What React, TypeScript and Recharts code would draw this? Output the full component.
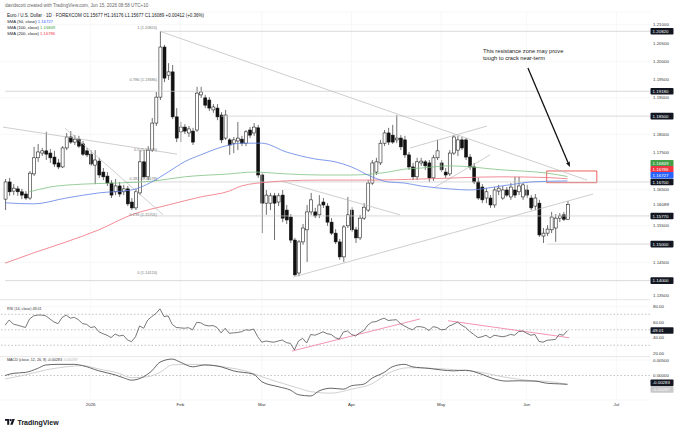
import React from 'react';
import {
  ComposedChart,
  Bar,
  Line,
  XAxis,
  YAxis,
  CartesianGrid,
  ReferenceLine,
  ReferenceDot,
  ReferenceArea,
} from 'recharts';

const FONT = '"Liberation Sans", Arial, sans-serif';

// daily candles, Dec 3 2025 .. Jun 15 2026 (index 0..138)
const opens = [
  1.1623, 1.1670, 1.1645, 1.1651, 1.1643, 1.1637, 1.1626, 1.1692, 1.1736, 1.1749,
  1.1755, 1.1749, 1.1738, 1.1722, 1.1711, 1.1763, 1.1793, 1.1779, 1.1787, 1.1774,
  1.1755, 1.1746, 1.1716, 1.1727, 1.1697, 1.1686, 1.1667, 1.1643, 1.1659, 1.1643,
  1.1651, 1.1615, 1.1599, 1.1640, 1.1725, 1.1684, 1.1757, 1.1831, 1.1902, 1.2039,
  1.1962, 1.1971, 1.1848, 1.1807, 1.1820, 1.1804, 1.1809, 1.1812, 1.1908, 1.1900,
  1.1894, 1.1867, 1.1872, 1.1853, 1.1790, 1.1785, 1.1776, 1.1782, 1.1787, 1.1776,
  1.1812, 1.1804, 1.1818, 1.1689, 1.1612, 1.1612, 1.1632, 1.1615, 1.1634, 1.1593,
  1.1574, 1.1511, 1.1421, 1.1506, 1.1539, 1.1588, 1.1588, 1.1580, 1.1615, 1.1604,
  1.1560, 1.1530, 1.1506, 1.1465, 1.1550, 1.1593, 1.1539, 1.1517, 1.1571, 1.1593,
  1.1667, 1.1697, 1.1722, 1.1776, 1.1804, 1.1798, 1.1785, 1.1790, 1.1785, 1.1744,
  1.1711, 1.1684, 1.1722, 1.1725, 1.1722, 1.1681, 1.1736, 1.1722, 1.1697, 1.1692,
  1.1749, 1.1757, 1.1785, 1.1785, 1.1738, 1.1711, 1.1670, 1.1656, 1.1626, 1.1626,
  1.1607, 1.1645, 1.1626, 1.1648, 1.1629, 1.1648, 1.1643, 1.1629, 1.1648, 1.1626,
  1.1604, 1.1612, 1.1522, 1.1530, 1.1539, 1.1544, 1.1571, 1.1580, 1.15677,
];
const highs = [
  1.1678, 1.1681, 1.1664, 1.1659, 1.1651, 1.1645, 1.1700, 1.1766, 1.1774, 1.1763,
  1.1807, 1.1760, 1.1755, 1.1733, 1.1768, 1.1804, 1.1809, 1.1798, 1.1796, 1.1782,
  1.1763, 1.1757, 1.1757, 1.1736, 1.1708, 1.1697, 1.1675, 1.1678, 1.1670, 1.1662,
  1.1659, 1.1626, 1.1651, 1.1757, 1.1757, 1.1768, 1.1845, 1.1916, 1.2082, 1.2045,
  1.1995, 1.1990, 1.1872, 1.1834, 1.1828, 1.1823, 1.1818, 1.1930, 1.1930, 1.1908,
  1.1902, 1.1883, 1.1883, 1.1861, 1.1867, 1.1790, 1.1793, 1.1834, 1.1796, 1.1812,
  1.1820, 1.1831, 1.1826, 1.1694, 1.1648, 1.1640, 1.1640, 1.1640, 1.1648, 1.1607,
  1.1582, 1.1517, 1.1511, 1.1555, 1.1607, 1.1640, 1.1599, 1.1634, 1.1626, 1.1612,
  1.1571, 1.1541, 1.1514, 1.1552, 1.1629, 1.1601, 1.1547, 1.1580, 1.1612, 1.1675,
  1.1730, 1.1736, 1.1785, 1.1812, 1.1818, 1.1826, 1.1853, 1.1798, 1.1796, 1.1752,
  1.1722, 1.1736, 1.1736, 1.1730, 1.1730, 1.1744, 1.1785, 1.1730, 1.1708, 1.1757,
  1.1798, 1.1796, 1.1793, 1.1790, 1.1746, 1.1722, 1.1681, 1.1664, 1.1653, 1.1634,
  1.1656, 1.1662, 1.1659, 1.1656, 1.1667, 1.1684, 1.1684, 1.1667, 1.1662, 1.1634,
  1.1637, 1.1621, 1.1544, 1.1552, 1.1588, 1.1582, 1.1585, 1.1588, 1.16176,
];
const lows = [
  1.1593, 1.1632, 1.1634, 1.1632, 1.1623, 1.1621, 1.1621, 1.1686, 1.1725, 1.1741,
  1.1730, 1.1722, 1.1711, 1.1705, 1.1708, 1.1757, 1.1774, 1.1771, 1.1763, 1.1741,
  1.1738, 1.1714, 1.1664, 1.1681, 1.1675, 1.1659, 1.1626, 1.1634, 1.1629, 1.1634,
  1.1604, 1.1593, 1.1593, 1.1634, 1.1678, 1.1675, 1.1752, 1.1823, 1.1894, 1.1943,
  1.1949, 1.1842, 1.1779, 1.1779, 1.1801, 1.1793, 1.1771, 1.1807, 1.1900, 1.1872,
  1.1864, 1.1859, 1.1839, 1.1776, 1.1785, 1.1744, 1.1749, 1.1757, 1.1768, 1.1768,
  1.1790, 1.1796, 1.1681, 1.1530, 1.1580, 1.1593, 1.1511, 1.1604, 1.1560, 1.1555,
  1.1503, 1.1412, 1.1412, 1.1498, 1.1451, 1.1580, 1.1571, 1.1571, 1.1599, 1.1550,
  1.1525, 1.1500, 1.1457, 1.1451, 1.1544, 1.1533, 1.1503, 1.1511, 1.1566, 1.1588,
  1.1662, 1.1689, 1.1716, 1.1768, 1.1771, 1.1774, 1.1776, 1.1757, 1.1736, 1.1703,
  1.1675, 1.1675, 1.1714, 1.1703, 1.1670, 1.1673, 1.1730, 1.1697, 1.1681, 1.1686,
  1.1744, 1.1741, 1.1757, 1.1730, 1.1703, 1.1664, 1.1621, 1.1612, 1.1612, 1.1599,
  1.1599, 1.1634, 1.1621, 1.1629, 1.1621, 1.1626, 1.1634, 1.1621, 1.1626, 1.1593,
  1.1593, 1.1520, 1.1503, 1.1522, 1.1530, 1.1506, 1.1560, 1.1563, 1.15677,
];
const closes = [
  1.1670, 1.1643, 1.1653, 1.1643, 1.1634, 1.1626, 1.1694, 1.1736, 1.1752, 1.1755,
  1.1746, 1.1736, 1.1719, 1.1711, 1.1763, 1.1793, 1.1779, 1.1787, 1.1768, 1.1746,
  1.1744, 1.1719, 1.1730, 1.1689, 1.1684, 1.1667, 1.1634, 1.1659, 1.1637, 1.1651,
  1.1610, 1.1599, 1.1643, 1.1725, 1.1684, 1.1757, 1.1831, 1.1902, 1.2039, 1.1954,
  1.1971, 1.1848, 1.1790, 1.1820, 1.1809, 1.1815, 1.1779, 1.1913, 1.1916, 1.1880,
  1.1872, 1.1875, 1.1848, 1.1785, 1.1853, 1.1771, 1.1785, 1.1790, 1.1776, 1.1807,
  1.1798, 1.1820, 1.1689, 1.1612, 1.1634, 1.1632, 1.1612, 1.1632, 1.1571, 1.1566,
  1.1511, 1.1416, 1.1506, 1.1544, 1.1588, 1.1621, 1.1577, 1.1607, 1.1607, 1.1560,
  1.1530, 1.1506, 1.1465, 1.1547, 1.1580, 1.1539, 1.1517, 1.1571, 1.1601, 1.1667,
  1.1722, 1.1725, 1.1776, 1.1804, 1.1779, 1.1779, 1.1790, 1.1766, 1.1744, 1.1711,
  1.1684, 1.1725, 1.1727, 1.1714, 1.1681, 1.1736, 1.1755, 1.1703, 1.1689, 1.1749,
  1.1793, 1.1785, 1.1763, 1.1738, 1.1711, 1.1670, 1.1626, 1.1621, 1.1643, 1.1607,
  1.1648, 1.1653, 1.1648, 1.1634, 1.1656, 1.1634, 1.1659, 1.1662, 1.1634, 1.1599,
  1.1626, 1.1525, 1.1530, 1.1541, 1.1574, 1.1571, 1.1577, 1.1568, 1.16089,
];

// moving averages, read at points along each curve: [candle index, value]
const sma50 = [
  [0, 1.1613], [7, 1.1610], [15, 1.1626], [23, 1.1640], [31, 1.1648], [36, 1.1670],
  [40, 1.1697], [44, 1.1725], [48, 1.1744], [55, 1.1771], [58, 1.1776], [63, 1.1776],
  [69, 1.1752], [76, 1.1733], [81, 1.1725], [85, 1.1711], [90, 1.1684], [94, 1.1670],
  [98, 1.1667], [102, 1.1659], [109, 1.1651], [114, 1.1648], [120, 1.1656],
  [125, 1.1664], [129, 1.1670], [138, 1.16727],
];
const sma100 = [
  [6, 1.1643], [11, 1.1656], [19, 1.1664], [27, 1.1667], [36, 1.1672], [44, 1.1684],
  [55, 1.1692], [61, 1.1697], [69, 1.1692], [77, 1.1689], [85, 1.1689], [94, 1.1697],
  [98, 1.1705], [102, 1.1708], [109, 1.1714], [122, 1.1703], [133, 1.1694],
  [138, 1.16849],
];
const sma200 = [
  [0, 1.1448], [7, 1.1476], [15, 1.1506], [23, 1.1539], [31, 1.1580], [40, 1.1607],
  [48, 1.1629], [55, 1.1645], [58, 1.1659], [65, 1.1670], [69, 1.1673], [77, 1.1675],
  [90, 1.1675], [102, 1.1678], [122, 1.1684], [133, 1.1682], [138, 1.16786],
];

const rsi = [
  56, 62.6, 57.5, 56, 54.5, 53, 64, 68, 69, 69,
  68, 64, 60, 58, 66, 69, 65, 66, 63, 58,
  57, 53, 54, 47.5, 45, 43, 40, 44.5, 42, 43,
  37, 34.6, 41, 55, 52, 62.6, 67, 71, 77, 67,
  68, 57, 53, 52.5, 52, 52.7, 50, 59.6, 59, 56,
  55, 55.5, 53, 46, 52, 45.5, 46, 46.5, 47.5, 50,
  49.5, 51, 41, 34, 35.5, 34.6, 34, 35.5, 36.8, 33.5,
  32.5, 24, 35.5, 39, 33, 44, 43, 45, 47.5, 45,
  44, 40, 38, 47, 48.5, 44, 42, 46, 49, 56,
  60, 60.5, 63, 65, 62, 62.6, 63, 58, 55, 52,
  50, 54, 54, 52.7, 49, 54, 53, 50, 50.5, 55,
  57, 60, 56, 53, 48, 44, 40, 41, 43, 39.4,
  43, 42, 41, 42, 44, 43, 47.5, 48.5, 45.5, 43,
  44, 35, 34, 36.5, 37, 37.5, 44, 43, 49.01,
];

const macdLine = [
  [0, 0.0], [2, 0.0007], [5, 0.001], [8, 0.0023], [10, 0.0034], [13, 0.0036],
  [17, 0.0036], [19, 0.0032], [23, 0.0015], [27, 0.0002], [29, -0.0007], [31, -0.0015],
  [34, -0.0004], [36, 0.0015], [38, 0.0043], [41, 0.0053], [43, 0.0043], [46, 0.0028],
  [49, 0.0034], [53, 0.0028], [56, 0.0015], [61, 0.0004], [63, -0.002], [67, -0.0036],
  [70, -0.0047], [72, -0.0062], [75, -0.0066], [77, -0.005], [80, -0.0041], [83, -0.0044],
  [85, -0.0033], [88, -0.0028], [90, -0.0009], [93, 0.001], [95, 0.0028], [98, 0.0036],
  [100, 0.0028], [104, 0.0023], [107, 0.0018], [110, 0.0015], [113, 0.0017], [117, 0.0004],
  [120, -0.0011], [123, -0.0018], [126, -0.0017], [130, -0.0018], [133, -0.0025],
  [136, -0.0027], [138, -0.00283],
];
const signalLine = [
  [0, -0.0011], [5, 0.0002], [10, 0.0018], [15, 0.0028], [19, 0.0032], [23, 0.0021],
  [28, 0.0007], [31, -0.0007], [35, -0.0004], [38, 0.001], [41, 0.0034], [45, 0.0036],
  [50, 0.0034], [55, 0.0025], [59, 0.0015], [63, -0.0004], [68, -0.0025], [72, -0.0041],
  [75, -0.0052], [80, -0.0057], [85, -0.0044], [90, -0.0027], [94, 0.0007], [99, 0.0025],
  [105, 0.0023], [111, 0.0018], [117, 0.001], [122, -0.0004], [128, -0.0015],
  [135, -0.0022], [138, -0.00287],
];

const monthTicks = [21, 43, 63, 85, 107, 128, 150];
const monthLabels = ['2026', 'Feb', 'Mar', 'Apr', 'May', 'Jun', 'Jul'];
const priceTicks = [1.145, 1.155, 1.165, 1.175, 1.18, 1.19, 1.195, 1.2, 1.205, 1.21];
const rsiTicks = [20, 40, 60, 80];
const macdTicks = [0, 0.005];

// horizontal support / resistance levels: [from index, price]
const levels = [
  [38, 1.2082], [0, 1.1918], [53, 1.185], [29, 1.167], [33, 1.1577], [133, 1.15], [0, 1.14],
];
// drawn trendlines: [x1, y1, x2, y2]
const trendLines = [
  [38, 1.2082, 142.8, 1.1675],
  [70.7, 1.141, 144.3, 1.1637],
  [-0.5, 1.182, 42.2, 1.1746],
  [14.7, 1.1817, 38.8, 1.158],
  [68.2, 1.1671, 96.9, 1.158],
  [99.4, 1.1763, 118.3, 1.1823],
  [105.5, 1.1656, 119, 1.1744],
];
const fibLevels = [1.2082, 1.19386, 1.1747, 1.16679, 1.15701, 1.1412];
const fibNames = ['1', '0.786', '0.5', '0.382', '0.236', '0'];
const rsiTrend = [
  [70.4, 22.6, 101.8, 64],
  [108.7, 61.7, 138.4, 39.8],
];

const X_DOMAIN = [-1.25, 158.25];
const X_MAX = 158.25;
const PRICE_DOMAIN = [1.13471, 1.21348];
const RSI_DOMAIN = [14.9, 88.45];
const MACD_DOMAIN = [-0.0079, 0.00597];

const candleData = closes.map((c, i) => ({
  i,
  open: opens[i],
  high: highs[i],
  low: lows[i],
  close: c,
  range: [lows[i], highs[i]],
  sma50: null as number | null,
  sma100: null as number | null,
  sma200: null as number | null,
}));
sma50.forEach(([i, v]) => (candleData[i].sma50 = v));
sma100.forEach(([i, v]) => (candleData[i].sma100 = v));
sma200.forEach(([i, v]) => (candleData[i].sma200 = v));

const rsiData = rsi.map((v, i) => ({ i, rsi: v }));

const macdData = closes.map((_, i) => ({ i, macd: null as number | null, signal: null as number | null }));
macdLine.forEach(([i, v]) => (macdData[i].macd = v));
signalLine.forEach(([i, v]) => (macdData[i].signal = v));

const Candle = (props: any) => {
  const { x, y, width, height, payload } = props;
  if (!payload || payload.open == null) return null;
  const { open, close, high, low } = payload;
  const top = Math.min(y, y + height);
  const h = Math.abs(height);
  const span = high - low || 1;
  const toY = (v: number) => top + ((high - v) / span) * h;
  const cx = x + width / 2;
  const bTop = toY(Math.max(open, close));
  const bBot = toY(Math.min(open, close));
  const up = close >= open;
  return (
    <g>
      <line x1={cx} x2={cx} y1={top} y2={top + h} stroke="#111" strokeWidth={0.6} />
      <rect
        x={x}
        y={bTop}
        width={width}
        height={Math.max(bBot - bTop, 0.6)}
        fill={up ? '#fff' : '#111'}
        stroke="#111"
        strokeWidth={0.55}
      />
    </g>
  );
};

const boxShape = (text: string, bg: string, fg: string, dy = 0) => (p: any) => (
  <g>
    <rect x={p.cx + 0.5} y={p.cy + dy - 3.3} width={23} height={6.6} rx={0.8} fill={bg} />
    <text x={p.cx + 2.6} y={p.cy + dy + 1.6} fontSize={4.4} fill={fg} fontFamily={FONT}>
      {text}
    </text>
  </g>
);

const plainShape = (text: string, dy = 0) => (p: any) => (
  <text x={p.cx + 3} y={p.cy + dy + 1.6} fontSize={4.4} fill="#333" fontFamily={FONT}>
    {text}
  </text>
);

const fibShape = (text: string) => (p: any) => (
  <text x={p.cx} y={p.cy - 2.6} fontSize={3.9} fill="#777" textAnchor="end" fontFamily={FONT}>
    {text}
  </text>
);

const arrowShape = (p: any) => {
  const { x1, y1, x2, y2 } = p;
  const a = Math.atan2(y2 - y1, x2 - x1);
  const L = 5;
  const W = 2;
  const bx = x2 - L * Math.cos(a);
  const by = y2 - L * Math.sin(a);
  const pts = `${x2},${y2} ${bx - W * Math.sin(a)},${by + W * Math.cos(a)} ${bx + W * Math.sin(a)},${by - W * Math.cos(a)}`;
  return (
    <g>
      <line x1={x1} y1={y1} x2={bx} y2={by} stroke="#111" strokeWidth={1.3} />
      <polygon points={pts} fill="#111" />
    </g>
  );
};

const tickStyle = { fontSize: 4.4, fill: '#333', fontFamily: FONT };

function PricePane() {
  return (
    <ComposedChart width={680} height={300} data={candleData} margin={{ top: 12, right: 0, bottom: 0, left: 0 }}>
      <CartesianGrid vertical={false} stroke="#f2f2f2" strokeWidth={0.6} />
      <XAxis type="number" dataKey="i" domain={X_DOMAIN} hide allowDataOverflow />
      <YAxis
        orientation="right"
        width={30}
        domain={PRICE_DOMAIN}
        ticks={priceTicks}
        allowDataOverflow
        axisLine={false}
        tickLine={false}
        tickSize={0}
        tickMargin={3}
        tick={tickStyle}
        tickFormatter={(v: number) => v.toFixed(5)}
      />
      {monthTicks.map((t) => (
        <ReferenceLine key={'m' + t} x={t} stroke="#f2f2f2" strokeWidth={0.6} />
      ))}
      {levels.map(([from, v], k) => (
        <ReferenceLine
          key={'lv' + k}
          segment={[{ x: from, y: v }, { x: X_MAX, y: v }]}
          stroke="#c8c8c8"
          strokeWidth={0.7}
        />
      ))}
      {trendLines.map(([a, b, c, d], k) => (
        <ReferenceLine
          key={'tl' + k}
          segment={[{ x: a, y: b }, { x: c, y: d }]}
          stroke="#b9b9b9"
          strokeWidth={0.7}
        />
      ))}
      <Line dataKey="sma200" type="monotone" connectNulls dot={false} stroke="#ef6f7b" strokeWidth={0.8} isAnimationActive={false} />
      <Line dataKey="sma100" type="monotone" connectNulls dot={false} stroke="#7fc282" strokeWidth={0.8} isAnimationActive={false} />
      <Line dataKey="sma50" type="monotone" connectNulls dot={false} stroke="#5f82e6" strokeWidth={0.8} isAnimationActive={false} />
      <Bar dataKey="range" barSize={3} shape={Candle} isAnimationActive={false} />
      <ReferenceArea x1={132.9} x2={145.2} y1={1.1668} y2={1.17} fill="none" stroke="#e53935" strokeWidth={0.8} />
      <ReferenceLine segment={[{ x: 128.3, y: 1.19816 }, { x: 138.6, y: 1.17109 }]} shape={arrowShape} />
      {fibLevels.map((v, k) => (
        <ReferenceDot
          key={'fib' + k}
          x={37.3}
          y={v}
          r={0}
          shape={fibShape(`${fibNames[k]} (${v.toFixed(5)})`)}
        />
      ))}
      {levels.map(([, v], k) => (
        <ReferenceDot key={'bx' + k} x={X_MAX} y={v} r={0} shape={boxShape(v.toFixed(5), '#131722', '#fff')} />
      ))}
      <ReferenceDot x={X_MAX} y={1.16849} r={0} shape={boxShape('1.16849', '#43a047', '#fff', -13.2)} />
      <ReferenceDot x={X_MAX} y={1.16786} r={0} shape={boxShape('1.16786', '#f23645', '#fff', -9.5)} />
      <ReferenceDot x={X_MAX} y={1.16727} r={0} shape={boxShape('1.16727', '#2962ff', '#fff', -5.7)} />
      <ReferenceDot x={X_MAX} y={1.16089} r={0} shape={plainShape('1.16089')} />
      <ReferenceDot x={X_MAX} y={1.135} r={0} shape={plainShape('1.13500', -4)} />
    </ComposedChart>
  );
}

function RsiPane() {
  return (
    <ComposedChart width={680} height={57} data={rsiData} margin={{ top: 0, right: 0, bottom: 0, left: 0 }}>
      <CartesianGrid vertical={false} stroke="#f2f2f2" strokeWidth={0.6} />
      <XAxis type="number" dataKey="i" domain={X_DOMAIN} hide allowDataOverflow />
      <YAxis
        orientation="right"
        width={30}
        domain={RSI_DOMAIN}
        ticks={rsiTicks}
        allowDataOverflow
        axisLine={false}
        tickLine={false}
        tickSize={0}
        tickMargin={3}
        tick={tickStyle}
        tickFormatter={(v: number) => v.toFixed(2)}
      />
      {monthTicks.map((t) => (
        <ReferenceLine key={'m' + t} x={t} stroke="#f2f2f2" strokeWidth={0.6} />
      ))}
      {[70, 50, 30].map((v) => (
        <ReferenceLine key={'r' + v} y={v} stroke="#9a9a9a" strokeWidth={0.6} strokeDasharray="1.5 2" />
      ))}
      {rsiTrend.map(([a, b, c, d], k) => (
        <ReferenceLine key={'rt' + k} segment={[{ x: a, y: b }, { x: c, y: d }]} stroke="#f07a9c" strokeWidth={0.8} />
      ))}
      <Line dataKey="rsi" type="linear" dot={false} stroke="#555" strokeWidth={0.8} isAnimationActive={false} />
      <ReferenceDot x={X_MAX} y={49.01} r={0} shape={boxShape('49.01', '#131722', '#fff')} />
    </ComposedChart>
  );
}

function MacdPane() {
  return (
    <ComposedChart width={680} height={56} data={macdData} margin={{ top: 0, right: 0, bottom: 0, left: 0 }}>
      <CartesianGrid vertical={false} stroke="#f2f2f2" strokeWidth={0.6} />
      <XAxis
        type="number"
        dataKey="i"
        domain={X_DOMAIN}
        allowDataOverflow
        ticks={monthTicks}
        tickFormatter={(v: number) => monthLabels[monthTicks.indexOf(v)]}
        height={13}
        axisLine={false}
        tickLine={false}
        tickSize={0}
        tickMargin={3}
        tick={tickStyle}
      />
      <YAxis
        orientation="right"
        width={30}
        domain={MACD_DOMAIN}
        ticks={macdTicks}
        allowDataOverflow
        axisLine={false}
        tickLine={false}
        tickSize={0}
        tickMargin={3}
        tick={tickStyle}
        tickFormatter={(v: number) => v.toFixed(5)}
      />
      {monthTicks.map((t) => (
        <ReferenceLine key={'m' + t} x={t} stroke="#f2f2f2" strokeWidth={0.6} />
      ))}
      <ReferenceLine y={0} stroke="#9a9a9a" strokeWidth={0.6} strokeDasharray="1.5 2" />
      <Line dataKey="signal" type="monotone" connectNulls dot={false} stroke="#c4c4c4" strokeWidth={0.8} isAnimationActive={false} />
      <Line dataKey="macd" type="monotone" connectNulls dot={false} stroke="#555" strokeWidth={0.9} isAnimationActive={false} />
      <ReferenceDot x={X_MAX} y={-0.00283} r={0} shape={boxShape('-0.00283', '#131722', '#fff', -1.5)} />
      <ReferenceDot x={X_MAX} y={-0.00287} r={0} shape={boxShape('-0.00287', '#c9c9c9', '#fff', 5)} />
    </ComposedChart>
  );
}

export default function App() {
  return (
    <div style={{ position: 'absolute', left: 0, top: 0, width: 680, height: 433, background: '#fff', overflow: 'hidden' }}>
      <style>{'body{margin:0}'}</style>
      <div style={{ position: 'absolute', left: 0, top: 0 }}>
        <PricePane />
      </div>
      <div style={{ position: 'absolute', left: 0, top: 300 }}>
        <RsiPane />
      </div>
      <div style={{ position: 'absolute', left: 0, top: 357 }}>
        <MacdPane />
      </div>
      <svg
        width={680}
        height={433}
        style={{ position: 'absolute', left: 0, top: 0, pointerEvents: 'none' }}
        fontFamily={FONT}
      >
        <line x1={0} x2={650} y1={299.5} y2={299.5} stroke="#e6e6e6" strokeWidth={0.8} />
        <line x1={0} x2={650} y1={356.5} y2={356.5} stroke="#e6e6e6" strokeWidth={0.8} />
        <text x={5} y={6.5} fontSize={4.6} fill="#666">
          davidscott created with TradingView.com, Jun 15, 2026 08:58 UTC+10
        </text>
        <text x={7} y={16.5} fontSize={4.5} fill="#131722">
          Euro / U.S. Dollar · 1D · FOREXCOM  O1.15677 H1.16176 L1.15677 C1.16089 +0.00412 (+0.36%)
        </text>
        <text x={7} y={22.8} fontSize={4.2} fill="#131722">
          SMA (50, close) <tspan fill="#2962ff">1.16727</tspan>
        </text>
        <text x={7} y={29} fontSize={4.2} fill="#131722">
          SMA (100, close) <tspan fill="#43a047">1.16849</tspan>
        </text>
        <text x={7} y={35.3} fontSize={4.2} fill="#131722">
          SMA (200, close) <tspan fill="#f23645">1.16786</tspan>
        </text>
        <text x={483} y={53} fontSize={5.7} fill="#222">
          This resistance zone may prove
        </text>
        <text x={483} y={60.3} fontSize={5.7} fill="#222">
          tough to crack near-term
        </text>
        <text x={7} y={310.3} fontSize={3.7} fill="#333">
          RSI (14, close) <tspan>49.01</tspan>
        </text>
        <text x={7} y={361.3} fontSize={3.7} fill="#333">
          MACD (close, 12, 26, 9) <tspan>-0.00283</tspan> <tspan fill="#b5b5b5">-0.00287</tspan>
        </text>
        <g transform="translate(5,419)" fill="#131722">
          <rect x={0} y={0} width={4.2} height={1.8} />
          <rect x={2.2} y={0} width={2} height={5.8} />
          <circle cx={5.7} cy={1.1} r={1.1} />
          <polygon points="7.4,0 9.8,0 7.6,5.8 5.2,5.8" />
        </g>
        <text x={17.5} y={425} fontSize={7} fontWeight="bold" fill="#131722">
          TradingView
        </text>
      </svg>
    </div>
  );
}
